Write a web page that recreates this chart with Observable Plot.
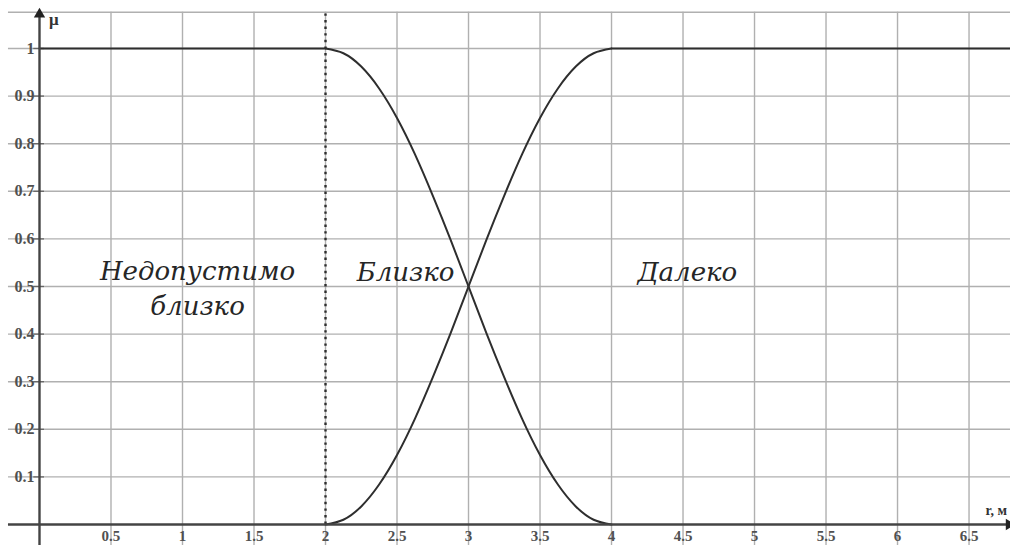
<!DOCTYPE html>
<html>
<head>
<meta charset="utf-8">
<script src="https://cdn.jsdelivr.net/npm/d3@7"></script>
<script src="https://cdn.jsdelivr.net/npm/@observablehq/plot@0.6"></script>
<style>
  html, body { margin: 0; padding: 0; background: #fff; }
  #chart svg { display: block; }
</style>
</head>
<body>
<div id="chart"></div>
<script>
// Distance r (m) and the x-axis tick labels
const xTicks = [0.5, 1, 1.5, 2, 2.5, 3, 3.5, 4, 4.5, 5, 5.5, 6, 6.5];
const xTickLabels = ["0.5", "1", "1.5", "2", "2.5", "3", "3.5", "4", "4.5", "5", "5.5", "6", "6.5"];

// Membership degree μ and the y-axis tick labels
const yTicks = [0.1, 0.2, 0.3, 0.4, 0.5, 0.6, 0.7, 0.8, 0.9, 1];
const yTickLabels = ["0.1", "0.2", "0.3", "0.4", "0.5", "0.6", "0.7", "0.8", "0.9", "1"];

// Transition zone between 2 m and 4 m
const rKnots = [2, 2.125, 2.25, 2.375, 2.5, 2.625, 2.75, 2.875, 3, 3.125, 3.25, 3.375, 3.5, 3.625, 3.75, 3.875, 4];
// «Близко» membership over the transition zone
const closeValues = [1, 0.990, 0.962, 0.916, 0.854, 0.778, 0.691, 0.598, 0.5, 0.402, 0.309, 0.222, 0.146, 0.084, 0.038, 0.010, 0];
// «Далеко» membership over the transition zone
const farValues = [0, 0.010, 0.038, 0.084, 0.146, 0.222, 0.309, 0.402, 0.5, 0.598, 0.691, 0.778, 0.854, 0.916, 0.962, 0.990, 1];

// Boundary of the inadmissibly-close zone
const limitR = 2;

// Region names
const regionLabels = ["Недопустимо", "близко", "Близко", "Далеко"];

// View window in data units
const xMin = -0.2727, xMax = 6.79;
const yMin = -0.0441, yMax = 1.1008;
const gridLeft = -0.217, gridTop = 1.076;

const closeCurve = rKnots.map((r, i) => ({r, mu: closeValues[i]}));
const farCurve = rKnots.map((r, i) => ({r, mu: farValues[i]}));
// flat parts outside the transition zone
const plateaus = [
  [{r: 0, mu: 1}, {r: rKnots[0], mu: closeValues[0]}],
  [{r: rKnots[rKnots.length - 1], mu: farValues[farValues.length - 1]}, {r: xMax, mu: 1}]
];

const xTickData = xTicks.map((v, i) => ({v, label: xTickLabels[i]}));
const yTickData = yTicks.map((v, i) => ({v, label: yTickLabels[i]}));

const labelData = [
  {r: 1.105, mu: 0.513, text: regionLabels[0]},
  {r: 1.105, mu: 0.441, text: regionLabels[1]},
  {r: 2.56, mu: 0.511, text: regionLabels[2]},
  {r: 4.53, mu: 0.511, text: regionLabels[3]}
];

const gridColor = "#b0b0b0";
const axisColor = "#444";
const inkColor = "#2e2e2e";

const chart = Plot.plot({
  width: 1010,
  height: 545,
  margin: 0,
  x: {domain: [xMin, xMax], axis: null},
  y: {domain: [yMin, yMax], axis: null},
  style: {background: "#fff"},
  marks: [
    // grid
    Plot.ruleX(xTicks, {x: d => d, y1: yMin, y2: gridTop, stroke: gridColor, strokeWidth: 1.4}),
    Plot.ruleY([...yTicks, gridTop], {y: d => d, x1: gridLeft, x2: xMax, stroke: gridColor, strokeWidth: 1.4}),
    // tick marks on the y axis
    Plot.ruleY(yTicks, {y: d => d, x1: -0.04, x2: 0.035, stroke: "#666", strokeWidth: 1.3}),
    // dotted boundary at r = 2
    Plot.ruleX([limitR], {y1: 0, y2: gridTop, stroke: inkColor, strokeWidth: 2.4, strokeDasharray: "2.4,4.2"}),
    // membership curves
    Plot.line(closeCurve, {x: "r", y: "mu", curve: "natural", stroke: inkColor, strokeWidth: 2}),
    Plot.line(farCurve, {x: "r", y: "mu", curve: "natural", stroke: inkColor, strokeWidth: 2}),
    ...plateaus.map(p => Plot.line(p, {x: "r", y: "mu", stroke: inkColor, strokeWidth: 2})),
    // axes
    Plot.ruleY([0], {x1: gridLeft, x2: xMax, stroke: axisColor, strokeWidth: 2.4}),
    Plot.ruleX([0], {y1: yMin, y2: 1.065, stroke: axisColor, strokeWidth: 2.4}),
    Plot.dot([{r: 0, mu: 1.072}], {x: "r", y: "mu", symbol: "triangle", r: 4.2, fill: "#222", stroke: "none"}),
    Plot.dot([{r: xMax - 0.01, mu: 0}], {x: "r", y: "mu", symbol: "triangle", r: 4.2, rotate: 90, fill: "#222", stroke: "none"}),
    // tick labels
    Plot.text(yTickData, {x: -0.035, y: "v", text: "label", textAnchor: "end", fontFamily: "Liberation Serif", fontSize: 16, fill: "#505050", fontWeight: "bold"}),
    Plot.text(xTickData, {x: "v", y: -0.025, text: "label", fontFamily: "Liberation Serif", fontSize: 15, fill: "#505050", fontWeight: "bold"}),
    // axis names
    Plot.text(["μ"], {x: 0.1, y: 1.06, text: d => d, fontFamily: "Liberation Serif", fontSize: 17, fontWeight: "bold", fill: "#333"}),
    Plot.text(["r, м"], {x: 6.765, y: 0.03, text: d => d, textAnchor: "end", fontFamily: "Liberation Serif", fontSize: 14, fontWeight: "bold", fill: "#333"}),
    // region names
    Plot.text(labelData, {x: "r", y: "mu", text: "text", lineAnchor: "bottom", fontFamily: "DejaVu Serif", fontStyle: "italic", fontSize: 26, fill: "#262626"})
  ]
});

document.getElementById("chart").appendChild(chart);
</script>
</body>
</html>
